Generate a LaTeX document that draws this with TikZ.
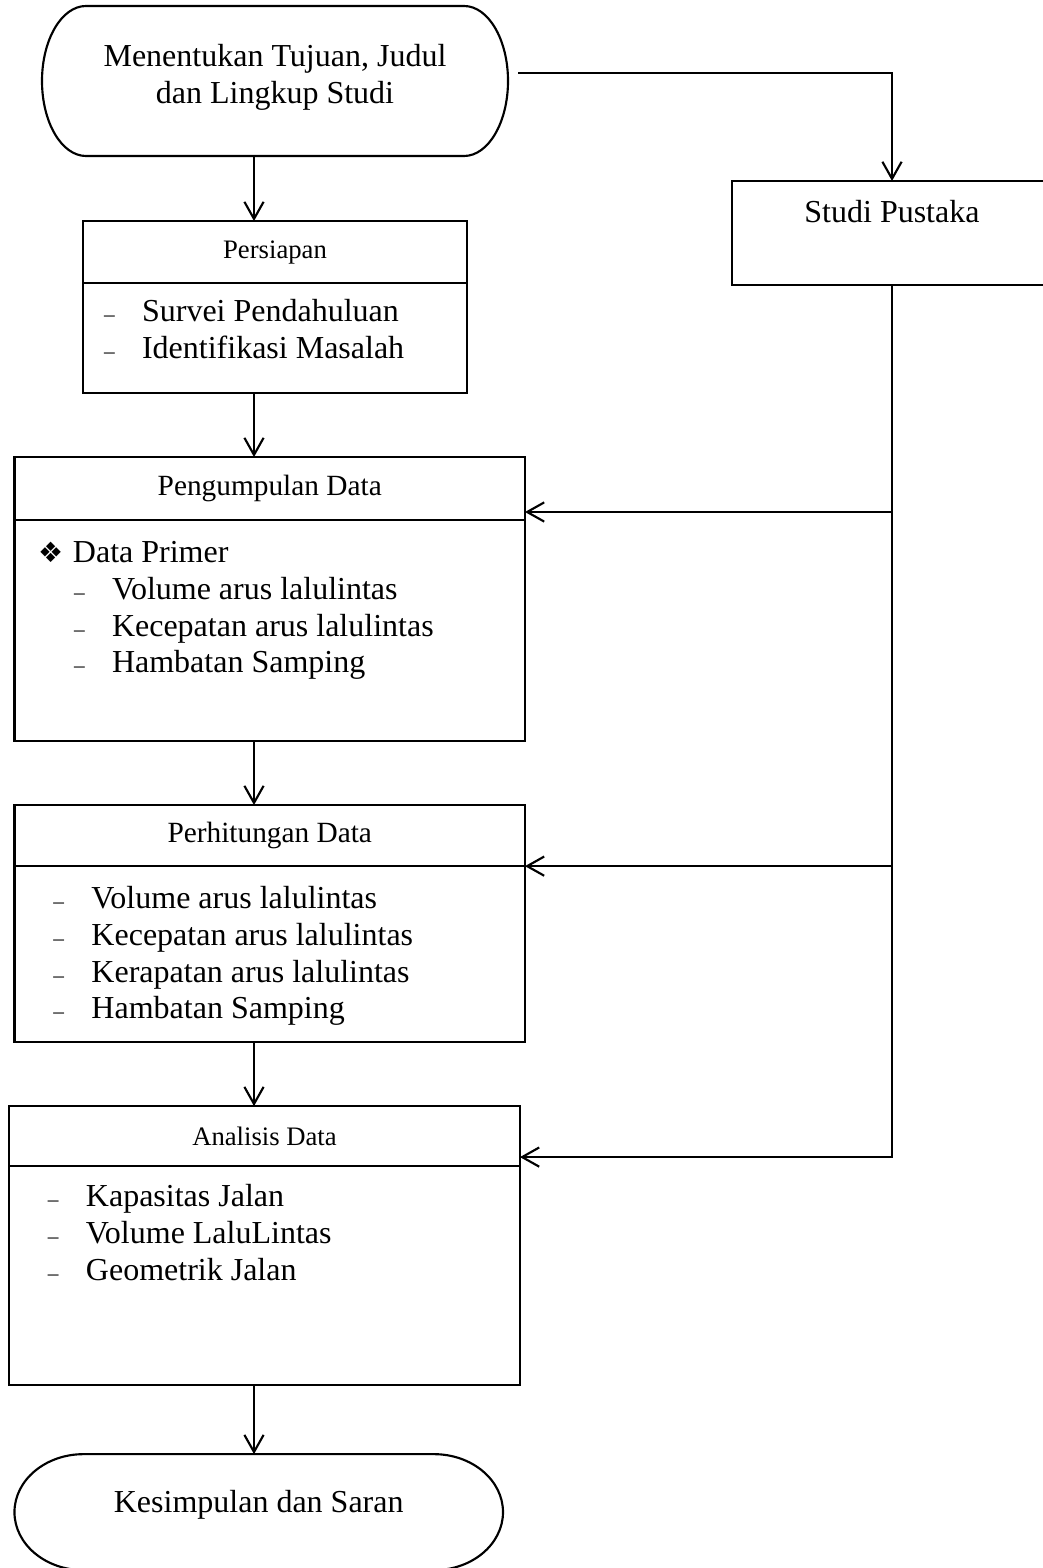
\documentclass[tikz,border=0pt]{standalone}
\usepackage{fontspec}
\setmainfont{Liberation Serif}
\newfontfamily\symbolfont{DejaVu Sans}
\usetikzlibrary{positioning,arrows.meta}

\newcommand{\itemdash}{\strut\makebox[14.25pt][l]{\fontsize{8}{8}\selectfont\textendash}}
\newcommand{\terminalpath}[3]{%
  \draw ([xshift=#2]#1.north west) -- ([xshift=-#2]#1.north east)
    arc[start angle=90,end angle=-90,x radius=#2,y radius=#3]
    -- ([xshift=#2]#1.south west)
    arc[start angle=270,end angle=90,x radius=#2,y radius=#3] -- cycle;}

\begin{document}
\begin{tikzpicture}[x=0.375pt, y=0.375pt, line width=0.8pt, inner sep=0pt, outer sep=0pt,
    font=\fontsize{12}{13.8}\selectfont,
    >={Straight Barb[length=6.4pt,width=7.2pt]},
    kecil/.style={font=\fontsize{10}{12}\selectfont},
    sedang/.style={font=\fontsize{11}{13}\selectfont}]
      \useasboundingbox (0,0) rectangle (1042,-1568);

      \node[name=tujuan] at (275,-81) {\parbox[c][56.25pt][t]{174.75pt}{\centering\vspace*{13.1pt}\strut Menentukan Tujuan, Judul\\\strut dan Lingkup Studi}};
      \terminalpath{tujuan}{16.5pt}{28.125pt}

      \node[draw=black, name=pustaka] at (892,-233) {\parbox[c][39pt][t]{120pt}{\centering\vspace*{5.98pt}\strut Studi Pustaka}};

      \node[draw=black, kecil, name=persiapan, minimum width=144pt, minimum height=23.25pt, below=24.4pt of tujuan] {Persiapan};
      \node[draw=black, name=persiapanIsi, below=0pt of persiapan] {\parbox[c][41.25pt][t]{144pt}{\vspace*{4.85pt}\leftskip=7.9pt
         \itemdash Survei Pendahuluan\\
         \itemdash Identifikasi Masalah}};

      \node[draw=black, sedang, name=pengumpulan, minimum width=191.4pt, minimum height=23.6pt, below=24pt of persiapanIsi, xshift=-1.97pt] {Pengumpulan Data};
      \node[draw=black, name=pengumpulanIsi, below=0pt of pengumpulan] {\parbox[c][82.9pt][t]{191.4pt}{\vspace*{6.28pt}\leftskip=22.3pt
         \strut\hspace*{-13.5pt}\makebox[13.1pt][l]{\symbolfont\fontsize{10.5}{10}\selectfont ❖}Data Primer\\
         \itemdash Volume arus lalulintas\\
         \itemdash Kecepatan arus lalulintas\\
         \itemdash Hambatan Samping}};

      \node[draw=black, sedang, name=perhitungan, minimum width=191.4pt, minimum height=22.9pt, below=24pt of pengumpulanIsi] {Perhitungan Data};
      \node[draw=black, name=perhitunganIsi, below=0pt of perhitungan] {\parbox[c][66pt][t]{191.4pt}{\vspace*{6.2pt}\leftskip=14.6pt
         \itemdash Volume arus lalulintas\\
         \itemdash Kecepatan arus lalulintas\\
         \itemdash Kerapatan arus lalulintas\\
         \itemdash Hambatan Samping}};

      \node[draw=black, kecil, name=analisis, minimum width=191.6pt, minimum height=22.5pt, below=24pt of perhitunganIsi, xshift=-1.97pt] {Analisis Data};
      \node[draw=black, name=analisisIsi, below=0pt of analisis] {\parbox[c][82.1pt][t]{191.6pt}{\vspace*{5.6pt}\leftskip=14.6pt
         \itemdash Kapasitas Jalan\\
         \itemdash Volume LaluLintas\\
         \itemdash Geometrik Jalan}};

      \node[name=kesimpulan, below=25.9pt of analisisIsi, xshift=-2.16pt] {\parbox[c][43.5pt][t]{183.2pt}{\centering\vspace*{12.35pt}\strut Kesimpulan dan Saran}};
      \terminalpath{kesimpulan}{25.9pt}{21.75pt}

      \coordinate (poros) at (254,0);
      \coordinate (kePengumpulan) at ([yshift=3pt]pengumpulan.south east);
      \coordinate (kePerhitungan) at (perhitungan.south east);
      \coordinate (keAnalisis) at ([yshift=3.4pt]analisis.south east);

      \path[->]
         (tujuan.south -| poros) edge (persiapan.north -| poros)
         (persiapanIsi.south -| poros) edge (pengumpulan.north -| poros)
         (pengumpulanIsi.south -| poros) edge (perhitungan.north -| poros)
         (perhitunganIsi.south -| poros) edge (analisis.north -| poros)
         (analisisIsi.south -| poros) edge (kesimpulan.north -| poros);

      \draw[->] ([xshift=3.75pt,yshift=3pt]tujuan.east) -| (pustaka.north);
      \draw[->] (pustaka.south) |- (keAnalisis);
      \path[->]
         (pustaka.south |- kePengumpulan) edge (kePengumpulan)
         (pustaka.south |- kePerhitungan) edge (kePerhitungan);
   \end{tikzpicture}
\end{document}
